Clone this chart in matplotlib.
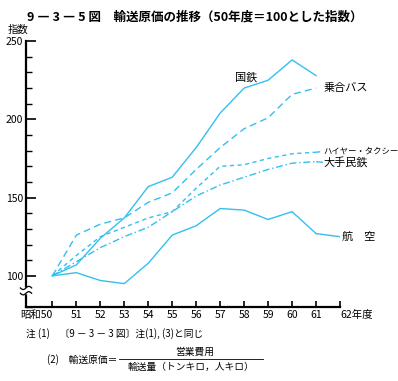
import matplotlib
matplotlib.use("Agg")
import matplotlib.pyplot as plt
import numpy as np
from matplotlib.ticker import MultipleLocator

plt.rcParams['font.family'] = ['Noto Sans CJK JP', 'DejaVu Sans']

years = [50, 51, 52, 53, 54, 55, 56, 57, 58, 59, 60, 61]
kokutetsu = [100, 107, 124, 137, 157, 163, 182, 204, 220, 225, 238, 228]
noriai_bus = [100, 126, 133, 137, 147, 153, 168, 182, 194, 201, 216, 220]
hire_taxi = [100, 113, 125, 131, 137, 141, 156, 170, 171, 175, 178, 179]
ote_mintetsu = [100, 109, 118, 125, 131, 141, 151, 158, 163, 168, 172, 173]
koku = [100, 102, 97, 95, 108, 126, 132, 143, 142, 136, 141, 127]

xtick_years = list(range(50, 63))
xtick_labels = ["昭和50"] + [str(y) for y in range(51, 62)] + ["62年度"]

col = "#33c0ee"

fig = plt.figure(figsize=(3.98, 3.81), dpi=100)
ax = fig.add_axes([0.0653, 0.194, 0.789, 0.698])

ax.plot(years, kokutetsu, color=col, lw=1.0)
ax.plot(years, noriai_bus, color=col, lw=1.0, dashes=(5, 3))
ax.plot(years, hire_taxi, color=col, lw=1.0, dashes=(3, 2.5))
ax.plot(years, ote_mintetsu, color=col, lw=1.0, dashes=(5, 2, 1, 2))
ax.plot(years, koku, color=col, lw=1.0)

ax.set_xlim(48.9, 62)
ax.set_ylim(80, 250)
ax.spines[["top", "right"]].set_visible(False)
ax.spines[["left", "bottom"]].set_linewidth(1.6)

ax.set_xticks(xtick_years)
ax.set_xticklabels(xtick_labels, fontsize=7.5)
ax.get_xticklabels()[-1].set_horizontalalignment("left")
ax.get_xticklabels()[-1].set_x(61.65)
ax.get_xticklabels()[0].set_horizontalalignment("right")
ax.get_xticklabels()[0].set_x(50.3)
ax.tick_params(axis="x", direction="in", length=4, width=1.2, pad=2)

ax.set_yticks([100, 150, 200, 250])
ax.yaxis.set_minor_locator(MultipleLocator(10))
ax.tick_params(axis="y", which="major", direction="in", length=7, width=1.2, labelsize=7.5, pad=2)
ax.tick_params(axis="y", which="minor", direction="in", length=4, width=1)

# axis break mark (two small waves across the y axis)
tw = np.linspace(-1, 1, 30)
bx = tw * 0.018
for y0 in (0.072, 0.052):
    ax.fill_between(bx, 0.052, 0.072, color="white", transform=ax.transAxes,
                    clip_on=False, zorder=3)
    ax.plot(bx, y0 + 0.006 * np.sin(tw * np.pi), color="black", lw=0.9,
            transform=ax.transAxes, clip_on=False, zorder=4)

fig.text(0.02, 0.915, "指数", fontsize=7.5)
fig.text(0.49, 0.945, "9 ― 3 ― 5 図　輸送原価の推移（50年度＝100とした指数）",
         fontsize=9, fontweight="bold", ha="center")

lab = dict(fontsize=8, va="center")
ax.text(57.6, 227, "国鉄", **lab)
ax.text(61.3, 220, "乗合バス", **lab)
ax.text(61.3, 179.5, "ハイヤー・タクシー", fontsize=6, va="center")
ax.text(61.3, 172, "大手民鉄", **lab)
ax.text(62.1, 125, "航　空", **lab)
ax.plot([years[-1], 61.3], [hire_taxi[-1], 179.5], color=col, lw=1.0, dashes=(3, 2.5))
ax.plot([years[-1], 61.3], [ote_mintetsu[-1], 172.5], color=col, lw=1.0, dashes=(5, 2, 1, 2))
ax.plot([years[-1], 62.0], [koku[-1], 125], color=col, lw=1.0)

fig.text(0.065, 0.117, "注 (1)　〔9 － 3 － 3 図〕注(1), (3)と同じ", fontsize=7)
fig.text(0.118, 0.057, "(2)　輸送原価＝", fontsize=7, va="center")
fig.text(0.49, 0.077, "営業費用", fontsize=7, ha="center", va="center")
fig.add_artist(plt.Line2D([0.3, 0.66], [0.058, 0.058], color="black", lw=0.6))
fig.text(0.48, 0.037, "輸送量（トンキロ，人キロ）", fontsize=7, ha="center", va="center")

fig.savefig("out.png", dpi=100)
